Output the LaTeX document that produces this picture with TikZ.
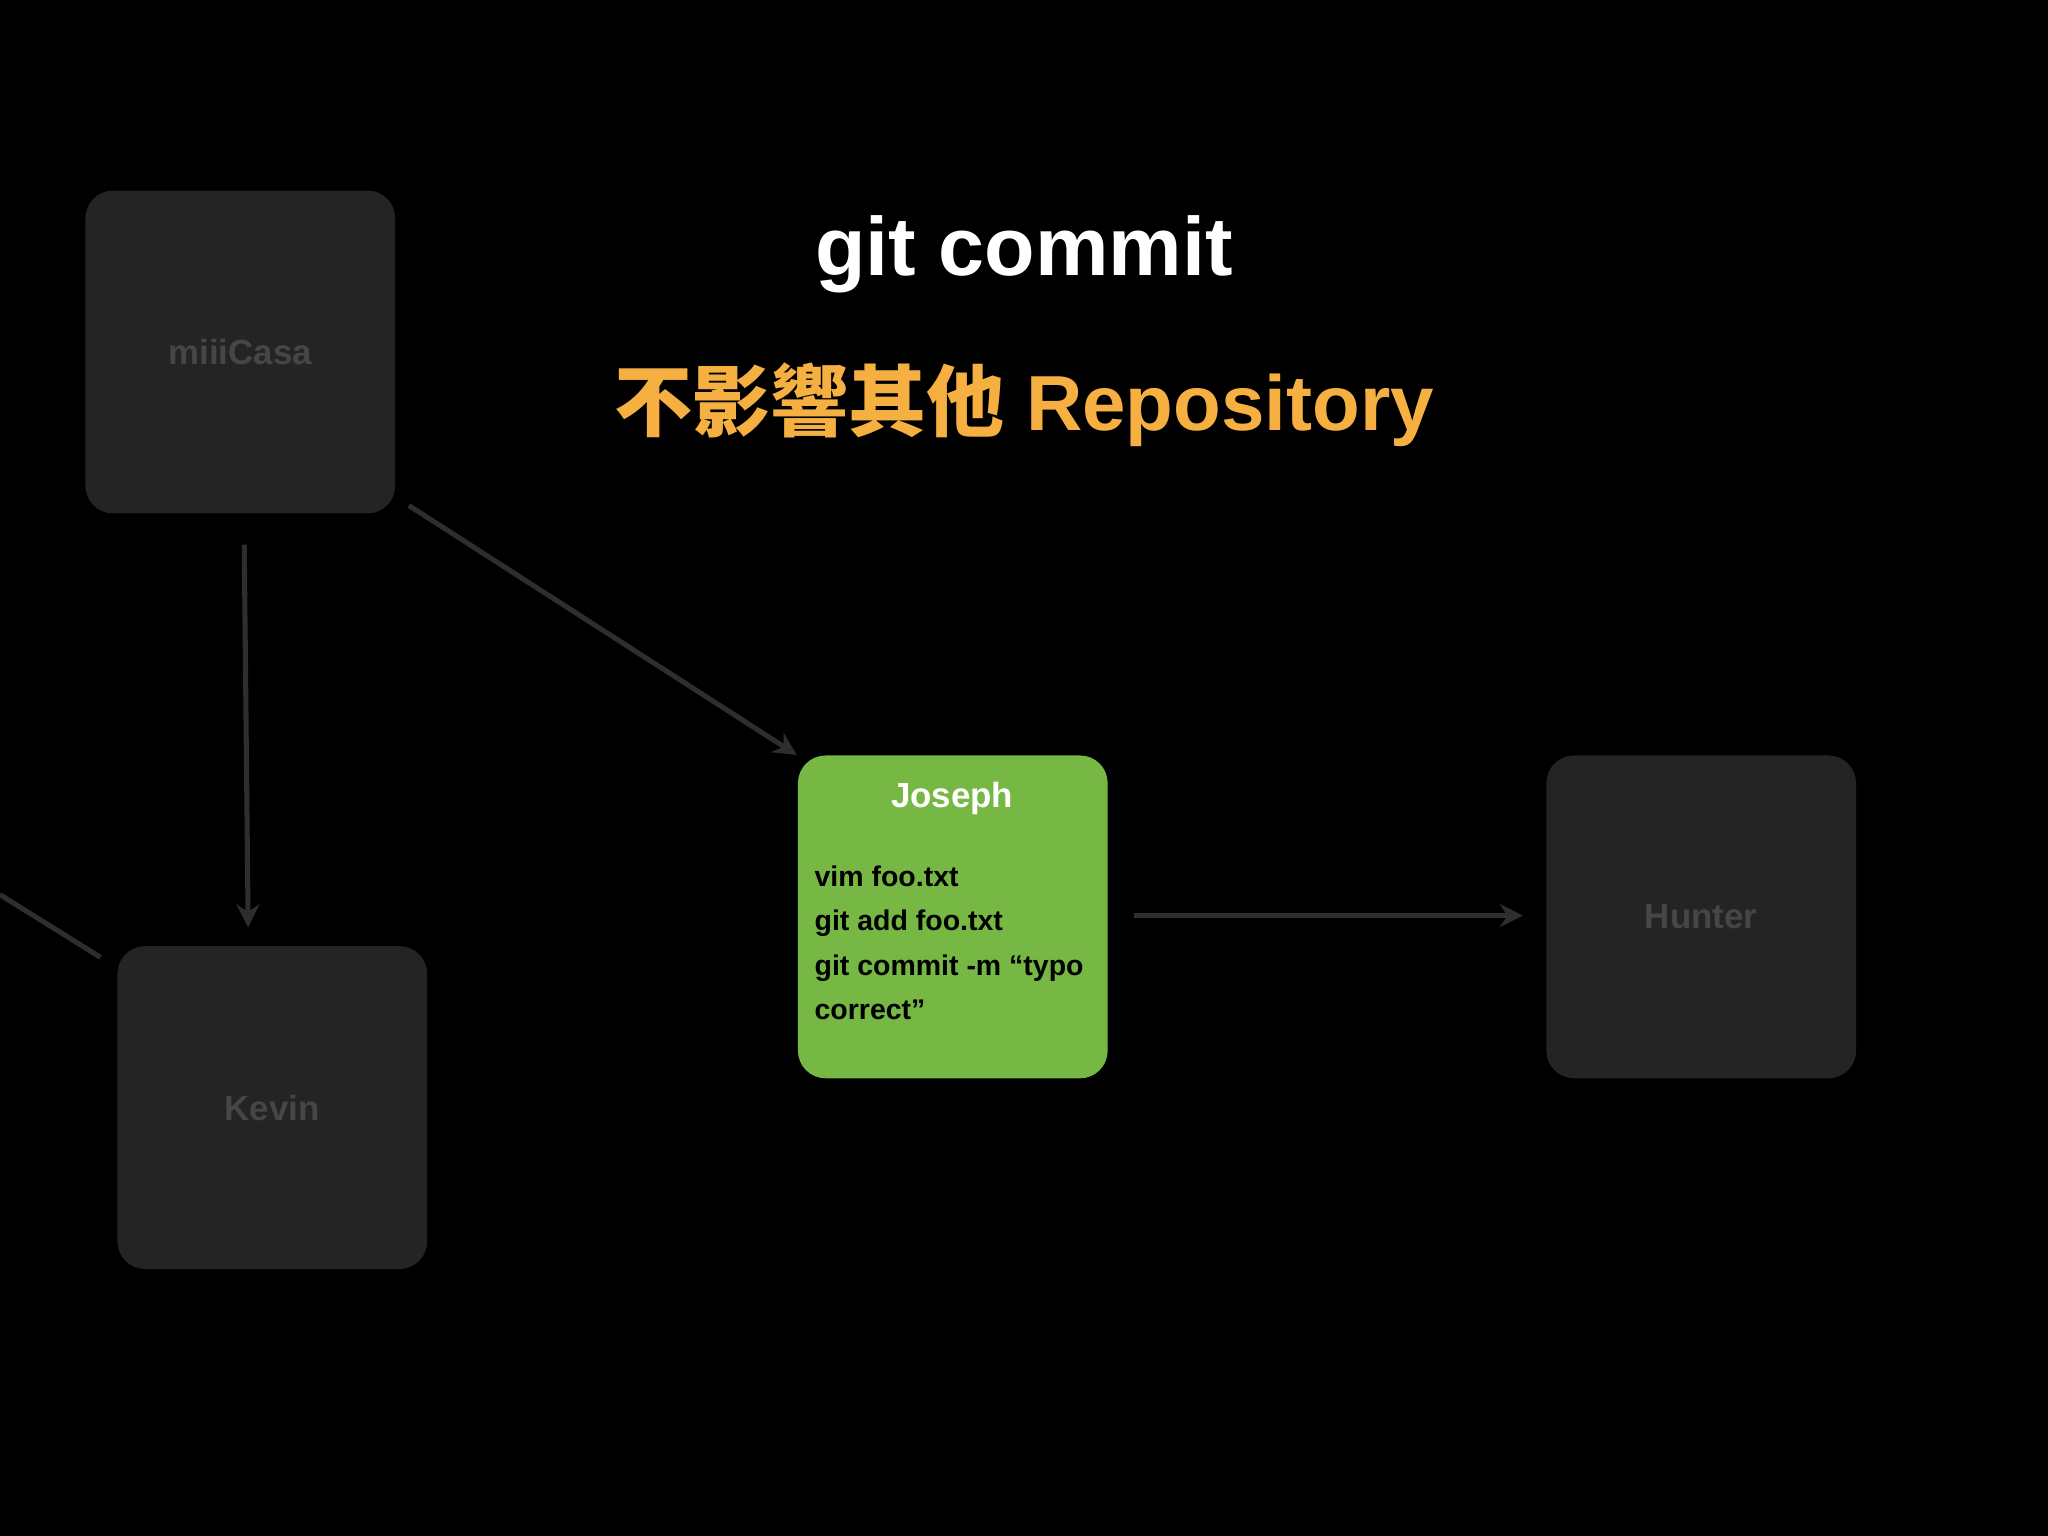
\documentclass[tikz,border=0pt]{standalone}
\usepackage{fontspec}
\setmainfont{Liberation Sans}
\newfontfamily\cjk{Noto Sans CJK TC}
\usetikzlibrary{arrows.meta}
\definecolor{boxdark}{HTML}{242424}
\definecolor{boxtext}{HTML}{464646}
\definecolor{arr}{HTML}{2E2E2E}
\definecolor{green}{HTML}{76B843}
\definecolor{orng}{HTML}{F5B041}
\begin{document}
\begin{tikzpicture}[x=0.01cm,y=-0.01cm,
  box/.style={rectangle,rounded corners=6pt,minimum width=2.37cm,minimum height=2.47cm,inner sep=0pt,font=\bfseries\fontsize{7.6}{9}\selectfont},
  dark/.style={box,fill=boxdark,text=boxtext},
  conn/.style={draw=arr,line width=1.1pt,-{Stealth[length=5pt,width=5pt]}}]
\fill[black] (0,0) rectangle (1568,1176);
\useasboundingbox (0,0) rectangle (1568,1176);
\node[dark] (m) at (184,269.5) {miiiCasa};
\node[dark] (k) at (208.5,848) {Kevin};
\node[dark] (h) at (1302.5,702) {Hunter};
\node[box,fill=green] (j) at (729.5,702) {};
\node[text=white,font=\bfseries\fontsize{7.6}{9}\selectfont] (jt) at (729,611) {Joseph};
\node[anchor=north west,text=black,align=left,inner sep=0pt,font=\bfseries\fontsize{6.2}{9.7}\selectfont] (jb) at (623,662) {vim foo.txt\\git add foo.txt\\git commit -m “typo\\correct”};
\node[text=white,font=\bfseries\fontsize{18}{20}\selectfont] (t1) at (784,195) {git commit};
\node[text=orng,font=\bfseries\fontsize{17}{20}\selectfont] (t2) at (784,310) {{\cjk 不影響其他} Repository};
\coordinate (a1) at (187,417); \coordinate (b1) at (190,710);
\coordinate (a2) at (313,387); \coordinate (b2) at (610,578);
\coordinate (a3) at (868,701); \coordinate (b3) at (1166,701);
\coordinate (a4) at (0,685); \coordinate (b4) at (77,733);
\draw[conn] (a1) -- (b1);
\draw[conn] (a2) -- (b2);
\draw[conn] (a3) -- (b3);
\draw[draw=arr,line width=1.1pt] (a4) -- (b4);
\end{tikzpicture}
\end{document}
